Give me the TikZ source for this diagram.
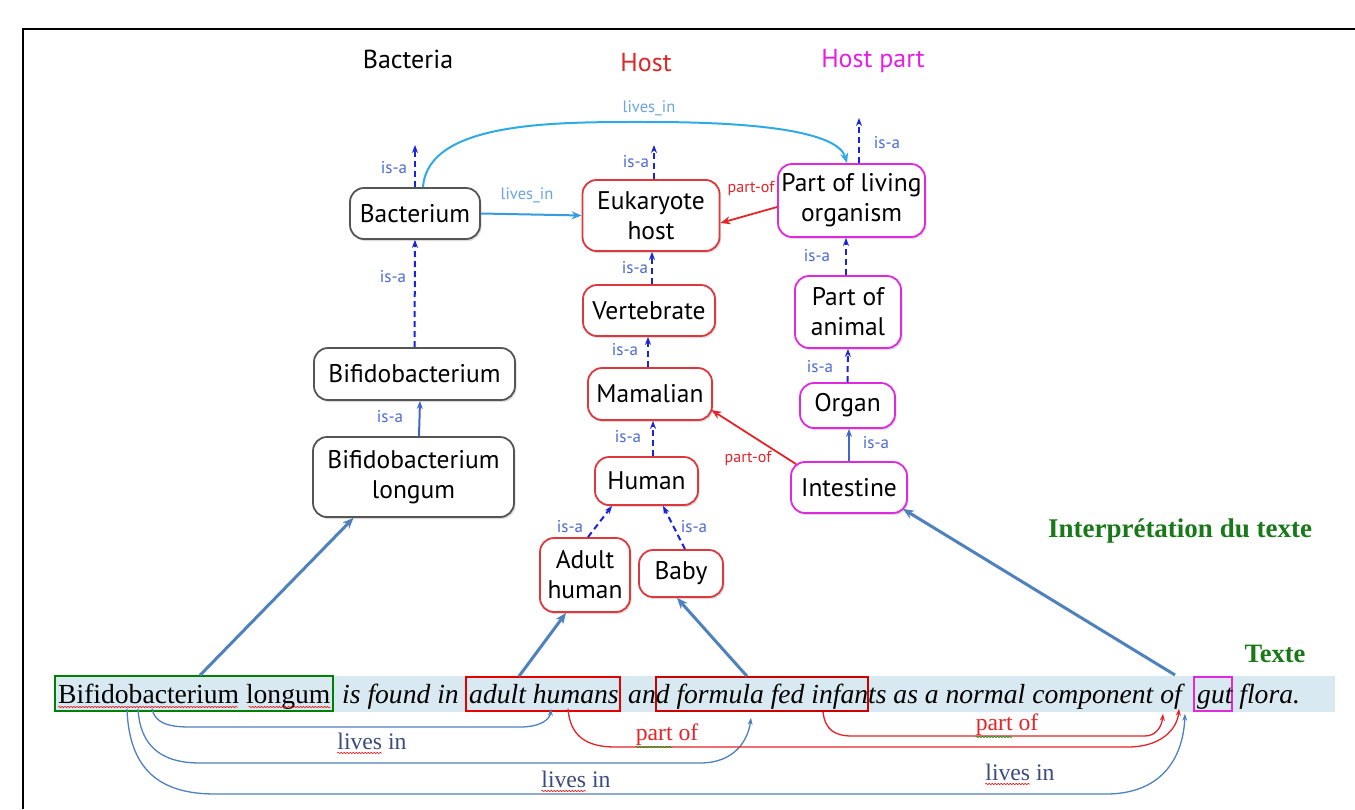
\documentclass[tikz,border=0pt]{standalone}
\usepackage{fontspec}
\newfontfamily\sfA{PT Sans}
\newfontfamily\serA{Liberation Serif}[ItalicFont={Liberation Serif Italic},BoldFont={Liberation Serif Bold}]
\usetikzlibrary{arrows.meta,shadows,decorations.pathmorphing,calc}
\definecolor{isaC}{RGB}{25,35,220}
\definecolor{isaL}{RGB}{75,105,210}
\definecolor{livC}{RGB}{55,155,225}
\definecolor{livL}{RGB}{105,165,230}
\definecolor{poC}{RGB}{230,35,40}
\definecolor{gryB}{RGB}{85,85,85}
\definecolor{redB}{RGB}{222,55,60}
\definecolor{magB}{RGB}{225,40,225}
\definecolor{stB}{RGB}{79,129,189}
\definecolor{bandC}{RGB}{216,233,241}
\definecolor{grT}{RGB}{25,120,25}
\definecolor{lblC}{RGB}{60,75,125}
\definecolor{hostT}{RGB}{220,40,40}
\definecolor{hpT}{RGB}{230,30,230}
\begin{document}
\begin{tikzpicture}[x=1pt,y=-1pt,
  box/.style={draw, rounded corners=14pt, line width=1.8pt, fill=white, align=center,
    font=\sfA\fontsize{25.5}{30}\selectfont, inner sep=0pt,
    drop shadow={opacity=.28, shadow xshift=1.5pt, shadow yshift=-2pt}},
  bac/.style={box, draw=gryB},
  hst/.style={box, draw=redB},
  hpt/.style={box, draw=magB},
  ttl/.style={anchor=base, inner sep=0pt, font=\sfA\fontsize{26}{26}\selectfont},
  isal/.style={inner sep=0pt, font=\sfA\fontsize{17}{17}\selectfont, text=isaL},
  pol/.style={inner sep=0pt, font=\sfA\fontsize{16}{16}\selectfont, text=poC},
  livl/.style={inner sep=0pt, font=\sfA\fontsize{16.5}{16.5}\selectfont, text=livL},
  isa/.style={draw=isaC, line width=2pt, dash pattern=on 6pt off 4pt, -{Stealth[length=8pt,width=6pt]}},
  isas/.style={draw=stB!80!blue, line width=2pt, -{Stealth[length=8pt,width=6pt]}},
  poa/.style={draw=poC, line width=1.8pt, -{Stealth[length=10pt,width=8pt]}},
  liva/.style={draw=livC, line width=2pt, -{Stealth[length=10pt,width=8pt]}},
  sarr/.style={draw=stB, line width=3pt, -{Stealth[length=11pt,width=9pt]}},
  arcb/.style={draw=stB, line width=1.3pt, -{Stealth[length=7pt,width=5pt]}},
  arcr/.style={draw=poC, line width=1.3pt, -{Stealth[length=7pt,width=5pt]}},
  sent/.style={anchor=base west, inner sep=0pt, font=\serA\fontsize{27.6}{30}\selectfont},
  blbl/.style={anchor=base, inner sep=0pt, font=\serA\fontsize{23.7}{26}\selectfont, text=lblC},
  rlbl/.style={anchor=base, inner sep=0pt, font=\serA\fontsize{23.7}{26}\selectfont, text=poC},
  hbox/.style={inner sep=0pt, line width=1.5pt, minimum height=34pt},
  wavy/.style={line width=0.5pt, decorate, decoration={snake, amplitude=0.8pt, segment length=3pt}}
]
\useasboundingbox (0,0) rectangle (1355,809);
\fill[white] (0,0) rectangle (1355,809);
\draw[line width=1.5pt] (23,809) -- (23,29) -- (1355,29);

% titles
\node[ttl] (tB) at (408,68) {Bacteria};
\node[ttl, text=hostT] (tH) at (646,71) {Host};
\node[ttl, text=hpT] (tP) at (873,67) {Host part};
\node[anchor=base, inner sep=0pt, font=\serA\bfseries\fontsize{27}{27}\selectfont, text=grT] (tI) at (1180,537) {Interprétation du texte};
\node[anchor=base, inner sep=0pt, font=\serA\bfseries\fontsize{26.5}{26.5}\selectfont, text=grT] (tT) at (1275,662) {Texte};

% nodes
\node[bac, minimum width=130pt, minimum height=51pt] (bact) at (415,213.5) {Bacterium};
\node[bac, minimum width=201pt, minimum height=52pt] (bifido) at (414.5,374) {Bifidobacterium};
\node[bac, minimum width=201pt, minimum height=80pt] (longum) at (413.5,477) {Bifidobacterium\\longum};
\node[hst, minimum width=137pt, minimum height=71pt] (euk) at (651,215.5) {Eukaryote\\host};
\node[hst, minimum width=132pt, minimum height=51pt] (vert) at (649,310.5) {Vertebrate};
\node[hst, minimum width=124pt, minimum height=52pt] (mam) at (650,394) {Mamalian};
\node[hst, minimum width=103pt, minimum height=48pt] (human) at (646.5,481) {Human};
\node[hst, minimum width=90pt, minimum height=74pt] (adult) at (585,575) {Adult\\human};
\node[hst, minimum width=84pt, minimum height=47pt] (baby) at (681,573.5) {Baby};
\node[hpt, minimum width=147pt, minimum height=73pt] (living) at (851.5,200.5) {Part of living\\organism};
\node[hpt, minimum width=106pt, minimum height=72pt] (animal) at (848,312) {Part of\\animal};
\node[hpt, minimum width=95pt, minimum height=45pt] (organ) at (847.5,405.5) {Organ};
\node[hpt, minimum width=116pt, minimum height=51pt] (intest) at (849,487.5) {Intestine};

% free ends
\coordinate (bactUp) at (415,145);
\coordinate (eukUp) at (654,145);
\coordinate (livUp) at (859,118);

% is-a edges
\draw[isa] (bact.north) -- (bactUp);
\node[isal] (l1) at (394,168) {is-a};
\draw[isa] (bifido.north) -- (bact.south);
\node[isal] (l2) at (393,277) {is-a};
\draw[isas] ([xshift=5.5pt]longum.north) -- ([xshift=5.5pt]bifido.south);
\node[isal] (l3) at (390,417) {is-a};
\draw[isa] ([xshift=3pt]euk.north) -- (eukUp);
\node[isal] (l4) at (636,162) {is-a};
\draw[isa] ([xshift=3pt]vert.north) -- ([xshift=1pt]euk.south);
\node[isal] (l5) at (635,268) {is-a};
\draw[isa] ([xshift=-2pt]mam.north) -- ([xshift=-1pt]vert.south);
\node[isal] (l6) at (625,350) {is-a};
\draw[isa] ([xshift=6.5pt]human.north) -- ([xshift=3pt]mam.south);
\node[isal] (l7) at (628,437) {is-a};
\draw[isa] ([xshift=3pt]adult.north) -- ([xshift=-34.5pt]human.south);
\node[isal] (l8) at (570,527) {is-a};
\draw[isa] ([xshift=4pt]baby.north) -- ([xshift=16.5pt]human.south);
\node[isal] (l9) at (694,527) {is-a};
\draw[isa] ([xshift=7.5pt]living.north) -- (livUp);
\node[isal] (l10) at (887,143) {is-a};
\draw[isa] ([xshift=-2pt]animal.north) -- ([xshift=-5.5pt]living.south);
\node[isal] (l11) at (817,256) {is-a};
\draw[isa] (organ.north) -- (animal.south);
\node[isal] (l12) at (820,367) {is-a};
\draw[isas] (intest.north) -- ([xshift=1.5pt]organ.south);
\node[isal] (l13) at (876,443) {is-a};

% part-of
\draw[poa] ([yshift=-6.5pt]living.west) -- ([yshift=-7.5pt]euk.east);
\node[pol] (p1) at (751,188) {part-of};
\draw[poa] ([xshift=6pt,yshift=-3pt]intest.north west) -- ([xshift=-1.5pt,yshift=-16pt]mam.east);
\node[pol] (p2) at (748,458) {part-of};

% lives_in
\draw[liva] (bact.east) -- (euk.west);
\node[livl] (v1) at (527,195) {lives\_in};
\draw[liva, draw=livC!85!cyan] ([xshift=8pt]bact.north) .. controls (428,120) and (560,122) .. (650,122)
   .. controls (760,122) and (838,132) .. ([xshift=-4.5pt]living.north);
\node[livl] (v2) at (649,108) {lives\_in};

% sentence
\fill[bandC] (55,676) rectangle (1335,712);
\node[hbox, draw=green!50!black, minimum width=278pt, minimum height=35pt] (gbox) at (194,693.5) {};
\node[hbox, draw=red!90!black, minimum width=154pt] (rbox1) at (543,694) {};
\node[hbox, draw=red!80!black, minimum width=212pt] (rbox2) at (762,694) {};
\node[hbox, draw=magB, minimum width=38pt] (mbox) at (1213,694) {};
\node[sent] (s1) at (58,703) {Bifidobacterium longum};
\node[sent] (s2) at (342,703) {\itshape is found in};
\node[sent] (s3) at (469,703) {\itshape adult humans};
\node[sent] (s4) at (628,703) {\itshape and formula fed infants as a normal component of};
\node[sent] (s5) at (1197,703) {\itshape gut flora.};
\draw[red, wavy] ([yshift=-4pt]s1.base west) -- +(180,0);
\draw[red, wavy] ([xshift=-82pt,yshift=-4pt]s1.base east) -- ([yshift=-4pt]s1.base east);

% arrows from sentence
\coordinate (gutA) at (1175,675);
\draw[sarr] ([xshift=6pt]gbox.north) -- ([xshift=-60pt]longum.south);
\draw[sarr] ([xshift=-24pt]rbox1.north) -- ([xshift=-19pt]adult.south);
\draw[sarr] ([xshift=-15pt]rbox2.north) -- ([xshift=-4pt]baby.south);
\draw[sarr] (gutA) -- ([xshift=-5pt,yshift=5pt]intest.south east);

% bottom arcs
\draw[arcb] ([xshift=-42pt,yshift=3pt]gbox.south) .. controls (155,723) and (168,727) .. (190,727)
   -- (520,727) .. controls (541,727) and (550,719) .. ([xshift=8pt,yshift=3pt]rbox1.south);
\draw[arcb] ([xshift=-56pt,yshift=3pt]gbox.south) .. controls (140,745) and (160,763) .. (200,763)
   -- (700,763) .. controls (735,763) and (748,740) .. ([xshift=-11pt,yshift=-6pt]rbox2.south);
\draw[arcb] ([xshift=-67pt,yshift=3pt]gbox.south) .. controls (129,770) and (160,794) .. (215,794)
   -- (1106,794) .. controls (1160,794) and (1183,760) .. ([xshift=-28pt,yshift=-2pt]mbox.south);
\draw[arcr] ([xshift=25pt,yshift=3pt]rbox1.south) .. controls (570,735) and (585,747) .. (615,747)
   -- (1128,747) .. controls (1160,747) and (1177,730) .. ([xshift=-34pt,yshift=3pt]mbox.south);
\draw[arcr] ([xshift=61pt]rbox2.south) .. controls (825,730) and (835,736) .. (852,736)
   -- (1145,736) .. controls (1157,736) and (1162,725) .. ([xshift=-50pt,yshift=-2pt]mbox.south);

\node[blbl] (li1) at (372,749) {lives in};
\node[blbl] (li2) at (576,787) {lives in};
\node[blbl] (li3) at (1020,780) {lives in};
\node[rlbl] (po1) at (667,740) {part of};
\node[rlbl] (po2) at (1007,730) {part of};
\draw[red, wavy] ([yshift=-4pt]li1.base west) -- +(45,0);
\draw[red, wavy] ([yshift=-4pt]li2.base west) -- +(45,0);
\draw[red, wavy] ([yshift=-4pt]li3.base west) -- +(45,0);
\draw[green!60!black, wavy] ([yshift=-7pt]po1.base west) -- +(37,0);
\draw[green!60!black, wavy] ([yshift=-7pt]po2.base west) -- +(37,0);
\end{tikzpicture}
\end{document}
